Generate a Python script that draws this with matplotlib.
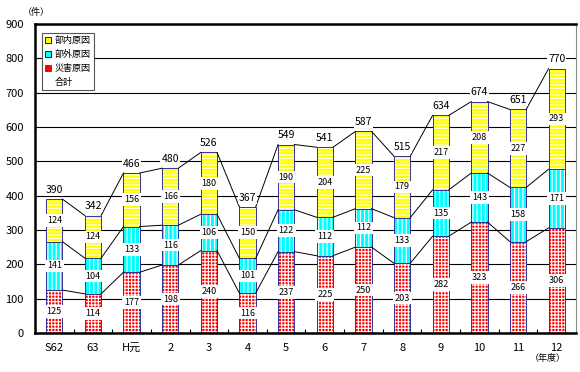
import matplotlib
matplotlib.use("Agg")
import matplotlib.pyplot as plt
from matplotlib.patches import Patch
import numpy as np

plt.rcParams['font.family'] = ['Noto Sans CJK JP', 'DejaVu Sans']
plt.rcParams['hatch.linewidth'] = 0.8

categories = ["S62", "63", "H元", "2", "3", "4", "5", "6", "7", "8", "9", "10", "11", "12"]
disaster = [125, 114, 177, 198, 240, 116, 237, 225, 250, 203, 282, 323, 266, 306]
external = [141, 104, 133, 116, 106, 101, 122, 112, 112, 133, 135, 143, 158, 171]
internal = [124, 124, 156, 166, 180, 150, 190, 204, 225, 179, 217, 208, 227, 293]
totals = [390, 342, 466, 480, 526, 367, 549, 541, 587, 515, 634, 674, 651, 770]
yticks = [0, 100, 200, 300, 400, 500, 600, 700, 800, 900]

fig = plt.figure(figsize=(5.8, 3.72), dpi=100)
ax = fig.add_axes([35/580, 1-333/372, (576-35)/580, (333-24)/372])

x = np.arange(len(categories))
w = 0.42
d = np.array(disaster); e = np.array(external); i_ = np.array(internal)

series = [
    (d, np.zeros_like(d), '#FF0000', '+++++'),
    (e, d, '#00FFFF', '||||'),
    (i_, d + e, '#FFFF00', '-----'),
]
for vals, bottom, col, hatch in series:
    ax.bar(x, vals, w, bottom=bottom, color=col, edgecolor='white', hatch=hatch,
           linewidth=0, zorder=2)
    ax.bar(x, vals, w, bottom=bottom, fill=False, edgecolor='#333399',
           linewidth=0.7, zorder=2.2)

# series lines between bars
for level in [d, d + e, d + e + i_]:
    for k in range(len(x) - 1):
        ax.plot([x[k] + w/2, x[k+1] - w/2], [level[k], level[k+1]],
                color='black', lw=0.7, zorder=2.5)

# segment labels
for vals, bottom, _, _ in series:
    for k in range(len(x)):
        ax.text(x[k], bottom[k] + vals[k]/2, str(vals[k]), ha='center', va='center',
                fontsize=6.5, zorder=4,
                bbox=dict(boxstyle='square,pad=0.2', fc='white', ec='none'))
for k in range(len(x)):
    ax.annotate(str(totals[k]), (x[k], totals[k]), xytext=(0, 3),
                textcoords='offset points', ha='center', va='bottom', fontsize=7.5,
                zorder=4, bbox=dict(boxstyle='square,pad=0.1', fc='white', ec='none'))

ax.set_xlim(-0.5, len(x) - 0.5)
ax.set_ylim(0, 900)
ax.set_yticks(yticks)
ax.set_yticklabels([str(v) for v in yticks], fontsize=8)
ax.set_xticks(x)
ax.set_xticklabels(categories, fontsize=8)
ax.set_xticks(np.arange(0.5, len(x) - 1, 1), minor=True)
ax.tick_params(axis='x', which='major', length=0, pad=7)
ax.tick_params(axis='x', which='minor', length=3, direction='in', width=0.8)
ax.tick_params(axis='y', length=0, pad=8)
ax.yaxis.grid(True, color='black', lw=0.8, zorder=0.5)
ax.set_axisbelow(True)
for s in ['left', 'bottom', 'top']:
    ax.spines[s].set_linewidth(1.8)
ax.spines['right'].set_linewidth(0.8)
ax.spines['right'].set_color('#888888')

handles = [Patch(fc='#FFFF00', ec='black', lw=0.6),
           Patch(fc='#00FFFF', ec='black', lw=0.6),
           Patch(fc='#FF0000', ec='#333399', lw=0.6),
           Patch(fc='none', ec='none')]
leg = ax.legend(handles, ['部内原因', '部外原因', '災害原因', '合計'],
                loc='upper left', bbox_to_anchor=(0.005, 0.985), fontsize=6.5,
                handlelength=0.6, handleheight=0.6, handletextpad=0.4,
                labelspacing=0.55, borderpad=0.35, fancybox=False,
                shadow=False, framealpha=1, edgecolor='#555555')
leg.get_frame().set_linewidth(0.8)
leg.set_zorder(5)

fig.text(36/580, 1-12/372, '（件）', ha='center', va='center', fontsize=6.5)
fig.text(548/580, 1-358/372, '（年度）', ha='center', va='center', fontsize=6.5)

fig.savefig('out.png', dpi=100)
